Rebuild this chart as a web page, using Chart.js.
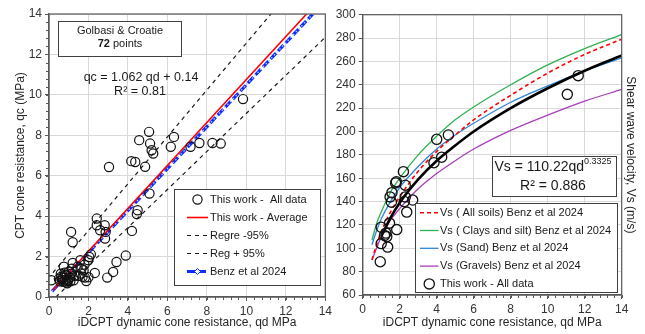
<!DOCTYPE html>
<html>
<head>
<meta charset="utf-8">
<script src="https://cdn.jsdelivr.net/npm/chart.js@4.4.1/dist/chart.umd.min.js"></script>
<style>
  html, body { margin: 0; padding: 0; background: #fff; }
  #wrap { position: relative; width: 645px; height: 334px; overflow: hidden; }
  canvas { position: absolute; top: 0; }
  #cLeft { left: 0; }
  #cRight { left: 335px; }
</style>
</head>
<body>
<div id="wrap">
  <canvas id="cLeft" width="335" height="334"></canvas>
  <canvas id="cRight" width="310" height="334"></canvas>
</div>
<script>
const FONT = "'Liberation Sans', Arial, sans-serif";

// ---- left panel: qc vs qd (72 points) ----
const qdAll = [0.12, 0.5, 0.55, 0.62, 0.7, 0.72, 0.75, 0.8, 0.82, 0.88, 0.9, 0.92, 0.98, 1.0, 1.05, 1.08,
  1.12, 1.2, 1.25, 1.3, 1.12, 1.2, 1.45, 1.59, 1.65, 1.75, 1.62, 1.82, 1.89, 1.7, 1.99, 2.04, 2.12, 2.32,
  2.42, 2.42, 2.59, 2.82, 2.87, 2.84, 2.95, 3.25, 3.42, 3.89, 4.2, 4.45, 4.49, 5.09, 3.04, 4.17, 4.37,
  4.57, 5.07, 5.12, 5.2, 5.28, 4.87, 6.17, 6.33, 7.17, 7.62, 8.28, 8.7, 9.83,
  0.65, 0.78, 0.95, 1.15, 1.5, 1.8, 2.0, 0.6];
const qcAll = [0.83, 0.9, 0.78, 1.0, 0.95, 0.75, 1.5, 0.83, 1.1, 0.72, 1.07, 0.68, 0.85, 1.25, 0.96, 0.78,
  1.15, 1.68, 0.83, 1.05, 3.22, 2.71, 1.5, 1.82, 1.41, 1.32, 1.16, 0.96, 0.79, 1.0, 1.82, 1.98, 2.11, 1.19,
  3.88, 3.55, 3.3, 3.55, 3.22, 2.89, 0.96, 1.24, 1.73, 2.05, 3.27, 4.1, 4.29, 5.12, 6.43, 6.72, 6.68,
  7.76, 8.17, 7.59, 7.26, 7.1, 6.44, 7.43, 7.92, 7.43, 7.62, 7.62, 7.59, 9.79,
  0.85, 1.2, 0.78, 1.4, 1.05, 1.6, 0.98, 1.15];
const avgQd = [0.2, 13.05];
const avgQc = [0.35, 14];
const lowQd = [0.35, 14];
const lowQc = [0, 12.85];
const highQd = [0.2, 11.24];
const highQc = [1.2, 14];
const benzQd = [0.15, 13.37];
const benzQc = [0.28, 14];
const leftTicks = [0, 2, 4, 6, 8, 10, 12, 14];

// ---- right panel: Vs vs qd ----
const qdVs = [0.95, 1.0, 1.0, 1.18, 1.26, 1.35, 1.45, 1.48, 1.58, 1.55, 1.78, 1.82, 1.84, 2.2, 2.3, 2.25,
  2.3, 2.38, 2.7, 1.3, 3.85, 4.27, 4.0, 4.63, 11.06, 11.65];
const vsAll = [88.5, 104, 118, 111, 113, 101, 121.5, 144, 147.6, 139.5, 156, 157, 116, 165.6, 154, 140,
  144, 131, 141.3, 110, 173.3, 178, 193.3, 197, 231.8, 247.8];
const curveQd = [0.5, 0.75, 1, 1.5, 2, 3, 4, 5, 6, 8, 10, 12, 14];
const vsAllSoils = [90, 103, 114, 131, 144, 166, 183, 197, 210, 231, 250, 266, 279];
const vsClays = [107, 121, 131, 148, 160, 180, 196, 210, 221, 240, 257, 271, 283];
const vsSand = [103, 115, 125, 140, 152, 170, 185, 197, 207, 225, 239, 252, 263];
const vsGravels = [90, 100, 110, 124, 134, 151, 164, 175, 185, 201, 214, 226, 236];
const fitQd = [1, 1.5, 2, 3, 4, 5, 6, 8, 10, 12, 14];
const vsFit = [110, 126, 139, 159, 175, 188, 200, 220, 237, 252, 265];
const rightXTicks = [0, 2, 4, 6, 8, 10, 12, 14];
const rightYTicks = [60, 80, 100, 120, 140, 160, 180, 200, 220, 240, 260, 280, 300];

const pts = (xs, ys) => xs.map((x, i) => ({ x, y: ys[i] }));

function lineSet(label, xs, ys, color, width, dash) {
  return {
    label, data: pts(xs, ys), showLine: true, pointRadius: 0, borderColor: color,
    borderWidth: width, borderDash: dash || [], fill: false,
    cubicInterpolationMode: 'monotone',
  };
}

function axisBase(ticks, title, fitSize, isX) {
  return {
    type: 'linear', min: ticks[0], max: ticks[ticks.length - 1],
    afterBuildTicks: (s) => { s.ticks = ticks.map((v) => ({ value: v })); },
    afterFit: (s) => { if (isX) s.height = fitSize; else s.width = fitSize; },
    grid: { color: '#d9d9d9', lineWidth: 1, tickColor: '#595959', tickLength: 4 },
    border: { color: '#595959', width: 1.2 },
    ticks: { font: { family: FONT, size: 12 }, color: '#333', padding: 3, maxRotation: 0 },
    title: { display: !!title, text: title, font: { family: FONT, size: 12 }, color: '#262626' },
  };
}

function minorTicks(spec) {
  return {
    id: 'minorTicks',
    afterDraw(chart) {
      const { ctx, chartArea: a } = chart;
      ctx.save();
      ctx.strokeStyle = '#595959';
      ctx.lineWidth = 1;
      ctx.beginPath();
      Object.keys(spec).forEach((id) => {
        const s = chart.scales[id];
        const n = Math.round((s.max - s.min) / spec[id]);
        for (let i = 0; i <= n; i++) {
          const p = Math.round(s.getPixelForValue(s.min + i * spec[id])) + 0.5;
          if (s.isHorizontal()) { ctx.moveTo(p, a.bottom); ctx.lineTo(p, a.bottom + 3); }
          else { ctx.moveTo(a.left - 3, p); ctx.lineTo(a.left, p); }
        }
      });
      ctx.stroke();
      ctx.restore();
    },
  };
}

function frame(ctx, a) {
  ctx.save();
  ctx.strokeStyle = '#595959';
  ctx.lineWidth = 1.2;
  ctx.strokeRect(a.left, a.top, a.right - a.left, a.bottom - a.top);
  ctx.restore();
}

function box(ctx, x, y, w, h) {
  ctx.save();
  ctx.fillStyle = '#fff';
  ctx.fillRect(x, y, w, h);
  ctx.strokeStyle = '#404040';
  ctx.lineWidth = 1;
  ctx.strokeRect(Math.round(x) + 0.5, Math.round(y) + 0.5, Math.round(w), Math.round(h));
  ctx.restore();
}

function drawSymbol(ctx, ds, x0, x1, y) {
  ctx.save();
  ctx.strokeStyle = ds.borderColor;
  ctx.lineWidth = ds.borderWidth;
  ctx.beginPath();
  if (ds.showLine) {
    ctx.setLineDash(ds.borderDash || []);
    ctx.moveTo(x0, y);
    ctx.lineTo(x1, y);
    ctx.stroke();
    if (ds.legendDiamond) {
      const m = (x0 + x1) / 2;
      ctx.setLineDash([]);
      ctx.lineWidth = 1;
      ctx.fillStyle = '#fff';
      ctx.beginPath();
      ctx.moveTo(m, y - 3); ctx.lineTo(m + 3, y); ctx.lineTo(m, y + 3); ctx.lineTo(m - 3, y);
      ctx.closePath();
      ctx.fill();
      ctx.stroke();
    }
  } else {
    ctx.arc((x0 + x1) / 2, y, ds.pointRadius, 0, Math.PI * 2);
    ctx.stroke();
  }
  ctx.restore();
}

function legend(ctx, chart, order, o) {
  box(ctx, o.x, o.y, o.w, o.h);
  ctx.save();
  ctx.font = `11px ${FONT}`;
  ctx.textBaseline = 'middle';
  ctx.fillStyle = '#1a1a1a';
  order.forEach((idx, i) => {
    const ds = chart.data.datasets[idx];
    const y = o.y + o.rowTop + i * o.rowGap;
    drawSymbol(ctx, ds, o.x + o.symX, o.x + o.symX + o.symW, y);
    ctx.fillText(ds.label, o.x + o.textX, y);
  });
  ctx.restore();
}

// ---------- left chart ----------
const leftDeco = {
  id: 'leftDeco',
  afterDraw(chart) {
    const { ctx, chartArea } = chart;
    frame(ctx, chartArea);

    box(ctx, 58, 21, 123, 35);
    ctx.save();
    ctx.fillStyle = '#1a1a1a';
    ctx.textBaseline = 'middle';
    ctx.textAlign = 'center';
    ctx.font = `11px ${FONT}`;
    ctx.fillText('Golbasi & Croatie', 120, 31);
    const bold = `bold 11px ${FONT}`;
    const reg = `11px ${FONT}`;
    ctx.font = bold; const w1 = ctx.measureText('72').width;
    ctx.font = reg; const w2 = ctx.measureText(' points').width;
    const sx = 120 - (w1 + w2) / 2;
    ctx.textAlign = 'left';
    ctx.font = bold; ctx.fillText('72', sx, 44);
    ctx.font = reg; ctx.fillText(' points', sx + w1, 44);

    ctx.textAlign = 'center';
    ctx.font = `12.5px ${FONT}`;
    ctx.fillText('qc = 1.062 qd + 0.14', 141, 78);
    ctx.fillText('R² = 0.81', 140, 92);
    ctx.restore();

    legend(ctx, chart, [0, 1, 2, 3, 5], {
      x: 174, y: 189, w: 146, h: 96, rowTop: 10.5, rowGap: 18, symX: 13, symW: 21, textX: 36,
    });
  },
};

new Chart(document.getElementById('cLeft'), {
  type: 'scatter',
  data: {
    datasets: [
      {
        label: 'This work -  All data', data: pts(qdAll, qcAll), showLine: false,
        pointStyle: 'circle', pointRadius: 4.6, borderColor: '#111', borderWidth: 1.2,
        backgroundColor: 'rgba(0,0,0,0)',
      },
      lineSet('This work - Average', avgQd, avgQc, '#ff0000', 1.6),
      lineSet('Regre -95%', lowQd, lowQc, '#1a1a1a', 1.2, [4, 4]),
      lineSet('Reg + 95%', highQd, highQc, '#1a1a1a', 1.2, [4, 4]),
      lineSet('', benzQd, benzQc, '#b9ccff', 1.3, [1.5, 2.5]),
      Object.assign(lineSet('Benz et al 2024', benzQd, benzQc, '#0a2cff', 3.2, [8, 3]), { legendDiamond: true }),
    ],
  },
  options: {
    responsive: false,
    animation: false,
    devicePixelRatio: 1,
    layout: { padding: { top: 14, right: 6, left: 0, bottom: 0 } },
    plugins: { legend: { display: false }, tooltip: { enabled: false } },
    scales: {
      x: Object.assign(axisBase(leftTicks, 'iDCPT dynamic cone resistance, qd MPa', 37, true), {
        title: { display: true, text: 'iDCPT dynamic cone resistance, qd MPa',
          font: { family: FONT, size: 12 }, color: '#262626', padding: { top: 0, bottom: 4 } },
      }),
      y: Object.assign(axisBase(leftTicks, 'CPT cone resistance, qc (MPa)', 49, false), {
        title: { display: true, text: 'CPT cone resistance, qc (MPa)',
          font: { family: FONT, size: 12 }, color: '#262626', padding: { top: 13, bottom: 0 } },
      }),
    },
  },
  plugins: [minorTicks({ x: 0.4, y: 0.4 }), leftDeco],
});

// ---------- right chart ----------
const rightDeco = {
  id: 'rightDeco',
  afterDraw(chart) {
    const { ctx, chartArea } = chart;
    frame(ctx, chartArea);

    box(ctx, 157, 156, 124, 40);
    ctx.save();
    ctx.fillStyle = '#1a1a1a';
    ctx.textBaseline = 'middle';
    const main = 'Vs = 110.22qd';
    const sup = '0.3325';
    ctx.font = `14px ${FONT}`; const wm = ctx.measureText(main).width;
    ctx.font = `9px ${FONT}`; const ws = ctx.measureText(sup).width;
    const sx = 218 - (wm + ws) / 2;
    ctx.textAlign = 'left';
    ctx.font = `14px ${FONT}`; ctx.fillText(main, sx, 167);
    ctx.font = `9px ${FONT}`; ctx.fillText(sup, sx + wm, 162);
    ctx.textAlign = 'center';
    ctx.font = `14px ${FONT}`;
    ctx.fillText('R² = 0.886', 218, 186);
    ctx.restore();

    legend(ctx, chart, [2, 3, 4, 5, 0], {
      x: 80, y: 203, w: 202, h: 89, rowTop: 9.7, rowGap: 17.8, symX: 5, symW: 18.5, textX: 25,
    });
  },
};

new Chart(document.getElementById('cRight'), {
  type: 'scatter',
  data: {
    datasets: [
      {
        label: 'This work - All data', data: pts(qdVs, vsAll), showLine: false,
        pointStyle: 'circle', pointRadius: 5.1, borderColor: '#111', borderWidth: 1.3,
        backgroundColor: 'rgba(0,0,0,0)',
      },
      lineSet('Fit', fitQd, vsFit, '#000', 2.6),
      lineSet('Vs ( All soils) Benz et al 2024', curveQd, vsAllSoils, '#ff0000', 1.6, [4, 3]),
      lineSet('Vs ( Clays and silt) Benz et al 2024', curveQd, vsClays, '#2eb150', 1.3),
      lineSet('Vs (Sand) Benz et al 2024', curveQd, vsSand, '#2f86d6', 1.3),
      lineSet('Vs (Gravels) Benz et al 2024', curveQd, vsGravels, '#a63fb8', 1.3),
    ],
  },
  options: {
    responsive: false,
    animation: false,
    devicePixelRatio: 1,
    layout: { padding: { top: 14.7, right: 0, left: 0, bottom: 0 } },
    plugins: { legend: { display: false }, tooltip: { enabled: false } },
    scales: {
      x: Object.assign(axisBase(rightXTicks, '', 39, true), {
        title: { display: true, text: 'iDCPT dynamic cone resistance, qd MPa',
          font: { family: FONT, size: 12 }, color: '#262626', padding: { top: 0, bottom: 4 } },
      }),
      y: axisBase(rightYTicks, '', 27.7, false),
      y2: {
        type: 'linear', position: 'right', min: 60, max: 300,
        afterFit: (s) => { s.width = 23.3; },
        ticks: { display: false },
        grid: { display: false },
        border: { display: false },
        title: { display: true, text: 'Shear wave velocity, Vs (m/s)',
          font: { family: FONT, size: 12 }, color: '#262626', padding: { top: 7, bottom: 0 } },
      },
    },
  },
  plugins: [minorTicks({ x: 0.4 }), rightDeco],
});
</script>
</body>
</html>
